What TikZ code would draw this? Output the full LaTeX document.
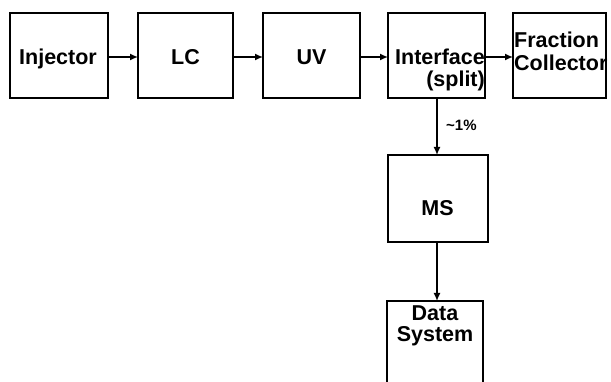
\documentclass[tikz,border=0pt]{standalone}
\usepackage{fontspec}
\setmainfont{Liberation Sans}
\usetikzlibrary{arrows.meta}
\begin{document}
\begin{tikzpicture}[x=1pt,y=-1pt,
  blk/.style={draw,line width=2pt,inner sep=0pt,outer sep=0pt},
  lbl/.style={font=\fontsize{21.5}{22}\selectfont\bfseries,inner sep=0pt,anchor=base},
  conn/.style={line width=1.5pt,-{Latex[length=8pt,width=7pt]}}]
\useasboundingbox (0,0) rectangle (611,382);
\node[blk,minimum width=98pt,minimum height=85pt] (inj) at (59,55.5) {};
\node[blk,minimum width=95pt,minimum height=85pt] (lc) at (185.5,55.5) {};
\node[blk,minimum width=97pt,minimum height=85pt] (uv) at (311.5,55.5) {};
\node[blk,minimum width=97pt,minimum height=85pt] (intf) at (436.5,55.5) {};
\node[blk,minimum width=93pt,minimum height=85pt] (frac) at (559.5,55.5) {};
\node[blk,minimum width=100pt,minimum height=87pt] (ms) at (437.5,198.5) {};
\node[blk,minimum width=96pt,minimum height=90pt] (ds) at (435,346) {};
\node[lbl] (tinj) at (58,64.5) {Injector};
\node[lbl] (tlc) at (185.5,64.5) {LC};
\node[lbl] (tuv) at (311.5,64.5) {UV};
\node[lbl,anchor=base east] (tintf1) at (485,64.5) {Interface};
\node[lbl,anchor=base east] (tintf2) at (485,87) {(split)};
\node[lbl,anchor=base west] (tfr1) at (514,47.5) {Fraction};
\node[lbl,anchor=base west] (tfr2) at (514,70.5) {Collector};
\node[lbl] (tms) at (437.5,215.5) {MS};
\node[lbl] (tds1) at (435,320.5) {Data};
\node[lbl] (tds2) at (435,341.5) {System};
\node[font=\fontsize{15}{16}\selectfont\bfseries,inner sep=0pt,anchor=west] (pct) at (446,125) {\textasciitilde1\%};
\draw[conn] (inj.east |- 0,57) -- (lc.west |- 0,57);
\draw[conn] (lc.east |- 0,57) -- (uv.west |- 0,57);
\draw[conn] (uv.east |- 0,57) -- (intf.west |- 0,57);
\draw[conn] (intf.east |- 0,57) -- (frac.west |- 0,57);
\draw[conn] (437,98) -- (437,155);
\draw[conn] (ms.south -| 437,0) -- (ds.north -| 437,0);
\end{tikzpicture}
\end{document}
